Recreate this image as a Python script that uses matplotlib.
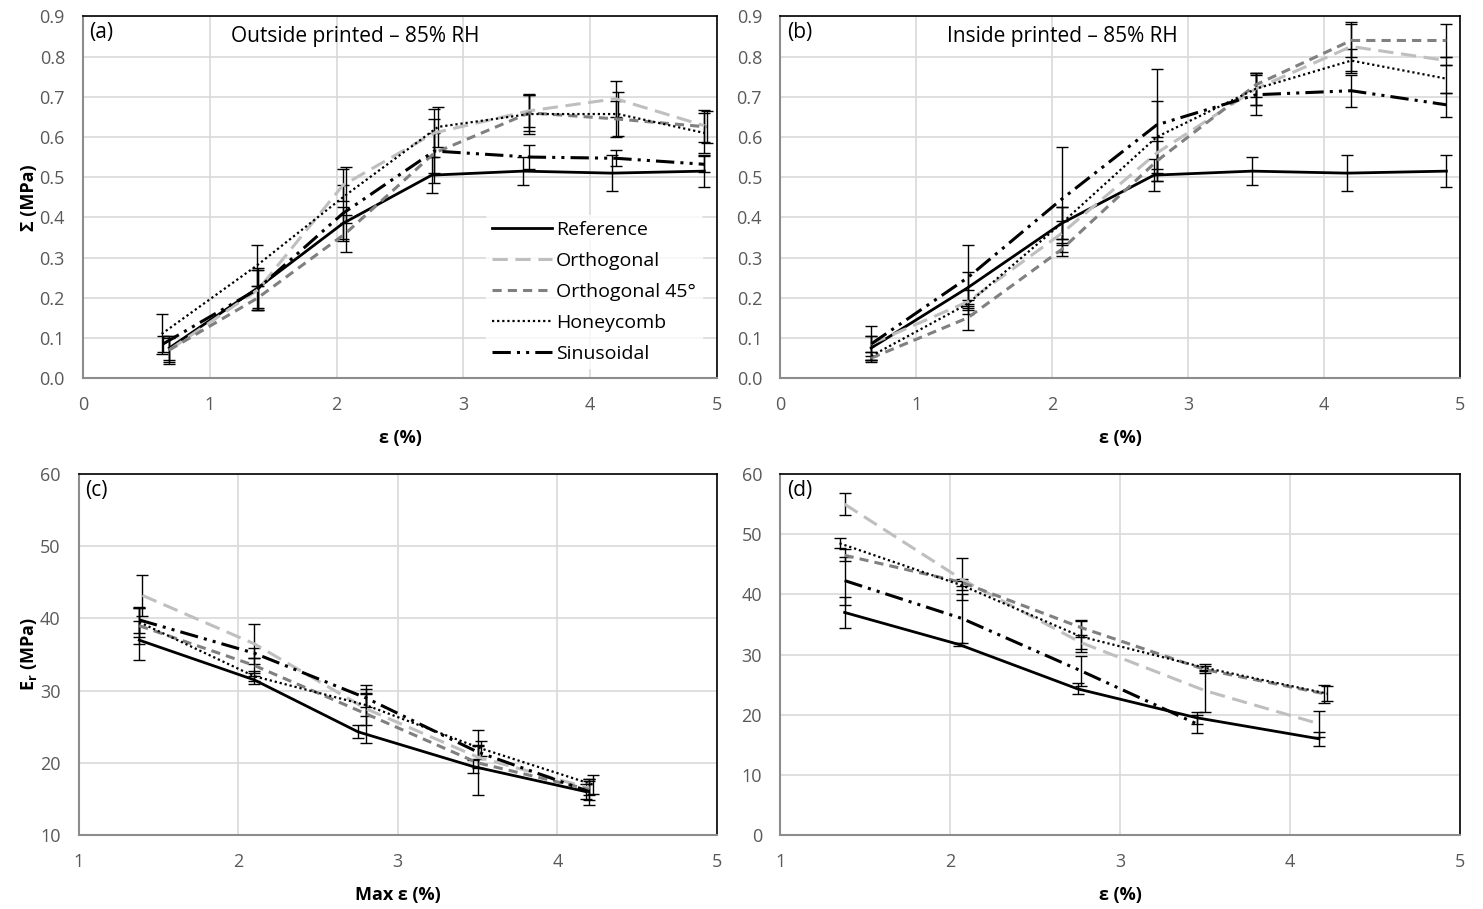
import numpy as np
import matplotlib.pyplot as plt

plt.rcParams['font.family'] = ['Open Sans', 'DejaVu Sans']

names = ['Reference', 'Orthogonal', 'Orthogonal 45°', 'Honeycomb', 'Sinusoidal']

# ---- panel (a): outside printed, stress vs strain
a_x = [
    [0.68, 1.38, 2.05, 2.75, 3.47, 4.17, 4.90],
    [0.68, 1.38, 2.05, 2.77, 3.52, 4.20, 4.90],
    [0.68, 1.38, 2.07, 2.77, 3.52, 4.20, 4.92],
    [0.62, 1.37, 2.07, 2.80, 3.52, 4.22, 4.90],
    [0.63, 1.37, 2.05, 2.77, 3.52, 4.20, 4.90],
]
a_y = [
    [0.075, 0.225, 0.385, 0.505, 0.515, 0.510, 0.515],
    [0.070, 0.220, 0.480, 0.610, 0.665, 0.695, 0.628],
    [0.070, 0.200, 0.360, 0.560, 0.660, 0.645, 0.625],
    [0.110, 0.280, 0.455, 0.625, 0.657, 0.657, 0.610],
    [0.085, 0.220, 0.410, 0.565, 0.550, 0.547, 0.532],
]
a_err = [
    [0.030, 0.050, 0.040, 0.045, 0.035, 0.045, 0.040],
    [0.035, 0.050, 0.040, 0.060, 0.040, 0.045, 0.040],
    [0.030, 0.030, 0.045, 0.050, 0.045, 0.045, 0.040],
    [0.050, 0.050, 0.070, 0.050, 0.050, 0.055, 0.050],
    [0.020, 0.050, 0.070, 0.080, 0.030, 0.020, 0.020],
]

# ---- panel (b): inside printed, stress vs strain
b_x = [
    [0.67, 1.38, 2.07, 2.75, 3.47, 4.17, 4.90],
    [0.67, 1.38, 2.07, 2.77, 3.50, 4.20, 4.90],
    [0.67, 1.38, 2.07, 2.77, 3.50, 4.20, 4.90],
    [0.67, 1.38, 2.07, 2.77, 3.50, 4.20, 4.90],
    [0.67, 1.38, 2.07, 2.77, 3.50, 4.20, 4.90],
]
b_y = [
    [0.075, 0.225, 0.385, 0.505, 0.515, 0.510, 0.515],
    [0.085, 0.190, 0.360, 0.560, 0.720, 0.825, 0.790],
    [0.050, 0.150, 0.320, 0.540, 0.730, 0.840, 0.840],
    [0.055, 0.185, 0.385, 0.600, 0.720, 0.790, 0.745],
    [0.085, 0.250, 0.445, 0.630, 0.705, 0.715, 0.680],
]
b_err = [
    [0.030, 0.040, 0.040, 0.040, 0.035, 0.045, 0.040],
    [0.020, 0.030, 0.030, 0.040, 0.040, 0.060, 0.010],
    [0.005, 0.030, 0.015, 0.050, 0.030, 0.040, 0.040],
    [0.010, 0.010, 0.040, 0.090, 0.040, 0.030, 0.035],
    [0.045, 0.080, 0.130, 0.140, 0.050, 0.040, 0.030],
]

# ---- panel (c): Er vs max strain
c_x = [
    [1.38, 2.10, 2.75, 3.47, 4.18],
    [1.40, 2.10, 2.80, 3.50, 4.20],
    [1.38, 2.10, 2.80, 3.50, 4.20],
    [1.38, 2.10, 2.80, 3.52, 4.22],
    [1.38, 2.10, 2.80, 3.50, 4.20],
]
c_y = [
    [37.0, 31.5, 24.3, 19.5, 16.0],
    [43.2, 36.5, 27.5, 20.8, 16.5],
    [39.0, 33.5, 26.8, 20.0, 16.3],
    [39.5, 32.0, 28.0, 22.0, 17.0],
    [39.8, 35.2, 29.0, 21.5, 16.0],
]
c_err = [
    [2.7, 0.6, 0.9, 0.9, 1.0],
    [2.8, 2.8, 2.2, 1.5, 1.0],
    [2.5, 1.0, 4.0, 4.5, 1.5],
    [2.0, 0.7, 1.5, 1.0, 1.3],
    [1.8, 0.7, 1.2, 1.0, 1.8],
]

# ---- panel (d): Er vs strain
d_x = [
    [1.38, 2.05, 2.75, 3.45, 4.17],
    [1.38, 2.07, 2.77, 3.50, 4.17],
    [1.38, 2.07, 2.77, 3.50, 4.20],
    [1.35, 2.07, 2.77, 3.50, 4.22],
    [1.38, 2.07, 2.77, 3.45],
]
d_y = [
    [37.0, 31.7, 24.3, 19.5, 16.0],
    [55.0, 42.5, 32.0, 24.0, 18.5],
    [46.5, 42.0, 34.5, 27.5, 23.5],
    [48.5, 41.5, 33.0, 27.8, 23.5],
    [42.3, 36.0, 27.3, 18.5],
]
d_err = [
    [2.6, 0.3, 0.9, 1.0, 1.2],
    [1.8, 3.5, 1.0, 3.5, 2.2],
    [1.0, 0.6, 1.2, 0.6, 1.5],
    [0.8, 0.7, 2.5, 0.6, 1.2],
    [4.0, 4.0, 2.5, 1.5],
]

styles = [
    dict(color='black', lw=2.0, ls='-'),
    dict(color='#BFBFBF', lw=2.2, ls=(0, (5, 2.5))),
    dict(color='#808080', lw=2.2, ls=(0, (3, 2))),
    dict(color='black', lw=1.6, ls=(0, (1, 1.3))),
    dict(color='black', lw=2.2, ls=(0, (6, 2, 1, 2, 1, 2))),
]

fig = plt.figure(figsize=(14.83, 9.09), dpi=100)
ax_a = fig.add_axes([0.056, 0.584, 0.4275, 0.398])
ax_b = fig.add_axes([0.526, 0.584, 0.4585, 0.398])
ax_c = fig.add_axes([0.053, 0.0814, 0.4305, 0.397])
ax_d = fig.add_axes([0.526, 0.0814, 0.4585, 0.397])


def draw(ax, xs, ys, errs):
    for i in range(len(names)):
        ax.errorbar(xs[i], ys[i], yerr=errs[i], fmt='none', ecolor='black',
                    elinewidth=1.0, capsize=4, capthick=1.0, zorder=3)
    for i in range(len(names)):
        ax.plot(xs[i], ys[i], label=names[i], zorder=4, **styles[i])


def style(ax, letter, xlabel, ylabel=None):
    ax.grid(True, color='#D9D9D9', lw=1.2)
    ax.set_axisbelow(True)
    ax.tick_params(length=0, labelsize=13, labelcolor='#595959', pad=13)
    for s in ['top', 'right']:
        ax.spines[s].set_color('black')
        ax.spines[s].set_linewidth(1.2)
    for s in ['left', 'bottom']:
        ax.spines[s].set_color('#8C8C8C')
        ax.spines[s].set_linewidth(1.5)
    ax.set_xlabel(xlabel, fontsize=13, fontweight='bold', labelpad=11)
    if ylabel:
        ax.set_ylabel(ylabel, fontsize=13, fontweight='bold', labelpad=1)
    ax.text(0.01, 0.985, letter, transform=ax.transAxes, fontsize=15,
            va='top', ha='left')


draw(ax_a, a_x, a_y, a_err)
draw(ax_b, b_x, b_y, b_err)
draw(ax_c, c_x, c_y, c_err)
draw(ax_d, d_x, d_y, d_err)

for ax in (ax_a, ax_b):
    ax.set_xlim(0, 5)
    ax.set_ylim(0, 0.9)
    ax.set_yticks(np.arange(0, 0.91, 0.1))
    ax.set_yticklabels([f'{v:.1f}' for v in np.arange(0, 0.91, 0.1)])
    ax.set_xticks(range(0, 6))

ax_c.set_xlim(1, 5)
ax_c.set_ylim(10, 60)
ax_c.set_xticks(range(1, 6))
ax_c.set_yticks(range(10, 61, 10))
ax_d.set_xlim(1, 5)
ax_d.set_ylim(0, 60)
ax_d.set_xticks(range(1, 6))
ax_d.set_yticks(range(0, 61, 10))

style(ax_a, '(a)', 'ε (%)', 'Σ (MPa)')
style(ax_b, '(b)', 'ε (%)')
style(ax_c, '(c)', 'Max ε (%)', 'E$_\\mathregular{r}$ (MPa)')
style(ax_d, '(d)', 'ε (%)')

ax_a.text(0.43, 0.945, 'Outside printed – 85% RH', transform=ax_a.transAxes,
          fontsize=15, ha='center', va='center')
ax_b.text(0.415, 0.945, 'Inside printed – 85% RH', transform=ax_b.transAxes,
          fontsize=15, ha='center', va='center')

leg = ax_a.legend(loc='lower left', bbox_to_anchor=(0.62, 0.0), frameon=True,
                  fontsize=14, handlelength=3.1, handletextpad=0.2,
                  labelspacing=0.66, borderpad=0.3)
leg.get_frame().set_facecolor('white')
leg.get_frame().set_edgecolor('white')

fig.savefig('out.png', dpi=100)
